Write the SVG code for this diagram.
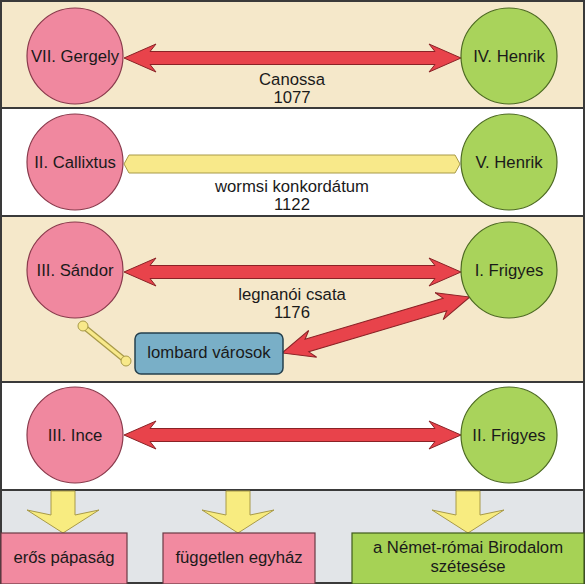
<svg xmlns="http://www.w3.org/2000/svg" width="585" height="584" viewBox="0 0 585 584">
<style>
text{font-family:"Liberation Sans",Arial,sans-serif;font-size:16.7px;fill:#1a1a1a;text-anchor:middle}
.band{stroke:#3a3a3a;stroke-width:2}
.pink{fill:#f0889f;stroke:#8a3a4c;stroke-width:1.2}
.green{fill:#a9d35b;stroke:#4d6a22;stroke-width:1.2}
.red{fill:#e8434b;stroke:#8a2226;stroke-width:1}
.yel{fill:#f8e98a;stroke:#a89a48;stroke-width:1}
.down{fill:#f8ec80;stroke:#a89a48;stroke-width:1}
</style>
<g id="bands">
<rect class="band" x="1" y="1" width="583" height="107" fill="#f5e8ca"/>
<rect class="band" x="1" y="108" width="583" height="108" fill="#ffffff"/>
<rect class="band" x="1" y="216" width="583" height="166" fill="#f5e8ca"/>
<rect class="band" x="1" y="382" width="583" height="108" fill="#ffffff"/>
<rect class="band" x="1" y="490" width="583" height="93" fill="#e2e5e8"/>
</g>
<g id="connectors">
<path class="red" d="M124,58 L156,44 L150,51.5 L435,51.5 L429,44 L461,58 L429,72 L435,64.5 L150,64.5 L156,72 Z"/>
<path class="yel" d="M124,164 L129,155 L455,155 L460,164 L455,173 L129,173 Z"/>
<path class="red" d="M124,272 L156,258 L150,265.5 L435,265.5 L429,258 L461,272 L429,286 L435,278.5 L150,278.5 L156,286 Z"/>
<path class="red" transform="translate(282,353) rotate(-16.6)" d="M0,0 L32,-14 L26,-6.5 L170,-6.5 L164,-14 L196,0 L164,14 L170,6.5 L26,6.5 L32,14 Z"/>
<g>
<line x1="83" y1="326" x2="126" y2="361" stroke="#a89a48" stroke-width="6" stroke-linecap="round"/>
<line x1="83" y1="326" x2="126" y2="361" stroke="#f8e98a" stroke-width="3.5"/>
<circle class="yel" cx="83" cy="326" r="5"/>
<circle class="yel" cx="126" cy="361" r="5"/>
</g>
<path class="red" d="M124,435 L156,421 L150,428.5 L435,428.5 L429,421 L461,435 L429,449 L435,441.5 L150,441.5 L156,449 Z"/>
<path class="down" d="M51,491 L75,491 L75,515 L99,510 L63,533 L27,510 L51,515 Z"/>
<path class="down" d="M226,491 L250,491 L250,515 L274,510 L238,533 L202,510 L226,515 Z"/>
<path class="down" d="M456,491 L480,491 L480,515 L504,510 L468,533 L432,510 L456,515 Z"/>
</g>
<g id="labels">
<text x="292" y="85">Canossa</text>
<text x="292" y="103">1077</text>
<text x="292" y="192">wormsi konkordátum</text>
<text x="292" y="210">1122</text>
<text x="292" y="300">legnanói csata</text>
<text x="292" y="318">1176</text>
</g>
<g id="gergely"><circle class="pink" cx="75" cy="56" r="48"/><text x="75" y="62">VII. Gergely</text></g>
<g id="henrik4"><circle class="green" cx="509" cy="56" r="48"/><text x="509" y="62">IV. Henrik</text></g>
<g id="callixtus"><circle class="pink" cx="75" cy="162" r="48"/><text x="75" y="168">II. Callixtus</text></g>
<g id="henrik5"><circle class="green" cx="509" cy="162" r="48"/><text x="509" y="168">V. Henrik</text></g>
<g id="sandor"><circle class="pink" cx="75" cy="270" r="48"/><text x="75" y="276">III. Sándor</text></g>
<g id="frigyes1"><circle class="green" cx="509" cy="270" r="48"/><text x="509" y="276">I. Frigyes</text></g>
<g id="lombard"><rect x="135" y="333" width="148" height="41" rx="6" fill="#79afc7" stroke="#25404e" stroke-width="1.5"/><text x="209" y="358">lombard városok</text></g>
<g id="ince"><circle class="pink" cx="75" cy="435" r="48"/><text x="75" y="441">III. Ince</text></g>
<g id="frigyes2"><circle class="green" cx="509" cy="435" r="48"/><text x="509" y="441">II. Frigyes</text></g>
<g id="papasag"><rect x="1" y="533" width="126" height="51" fill="#f28aa0" stroke="#6a3a44" stroke-width="1.2"/><text x="64" y="563">erős pápaság</text></g>
<g id="egyhaz"><rect x="163" y="533" width="152" height="51" fill="#f28aa0" stroke="#6a3a44" stroke-width="1.2"/><text x="239" y="563">független egyház</text></g>
<g id="birodalom"><rect x="352" y="533" width="232" height="51" fill="#a6d255" stroke="#3f5a1c" stroke-width="1.2"/><text x="468" y="553">a Német-római Birodalom</text><text x="468" y="572">szétesése</text></g>
</svg>
